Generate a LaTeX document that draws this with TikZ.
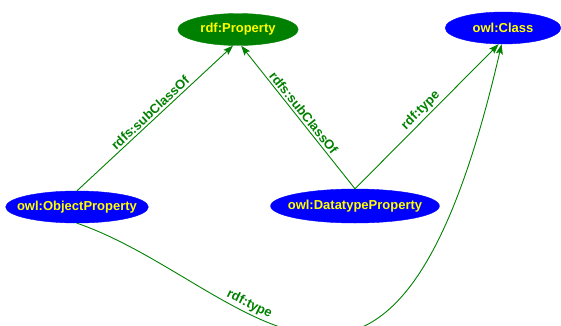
\documentclass[tikz,border=0pt]{standalone}
\usepackage{fontspec}
\setmainfont{Liberation Sans}
\usetikzlibrary{shapes.geometric, arrows.meta}

\definecolor{rdfgreen}{RGB}{0,128,0}
\definecolor{owlblue}{RGB}{0,0,255}
\definecolor{termyellow}{RGB}{255,255,0}

\begin{document}
\begin{tikzpicture}[x=1pt, y=1pt, >={Stealth[length=10pt, width=7pt, inset=2pt]},
    font=\fontsize{13}{15}\selectfont\bfseries,
    term/.style={draw, ellipse, inner sep=0pt, minimum height=32pt, text=termyellow},
    rel/.style={->, draw=rdfgreen, line width=0.9pt},
    lbl/.style={sloped, above, text=rdfgreen, inner sep=2pt}]
	\useasboundingbox (0,0) rectangle (561,325);
	
	% Classes on top
	\node[term, fill=rdfgreen, draw=rdfgreen, inner xsep=5pt] (prop) at (238,295.5) {rdf:Property};
	\node[term, fill=owlblue, draw=owlblue, inner xsep=10.5pt] (cls) at (503,297) {owl:Class};
	
	% Property kinds
	\node[term, fill=owlblue, draw=owlblue, inner xsep=-9.5pt] (op) at (77,118) {owl:ObjectProperty};
	\node[term, fill=owlblue, draw=owlblue, inner xsep=-7.5pt, minimum height=34pt] (dp) at (355,119) {owl:DatatypeProperty};
	
	\draw[rel] (op.north) -- (prop.253) node[lbl, midway] {rdfs:subClassOf};
	\draw[rel] (dp.north) -- (prop.281) node[lbl, midway] {rdfs:subClassOf};
	\draw[rel] (dp.north) -- (cls.255) node[lbl, midway] {rdf:type};
	\draw[rel] (op.south) to[out=-19, in=-103, out distance=179, in distance=487]
		node[lbl, pos=0.35] {rdf:type} (cls.265);
\end{tikzpicture}
\end{document}
